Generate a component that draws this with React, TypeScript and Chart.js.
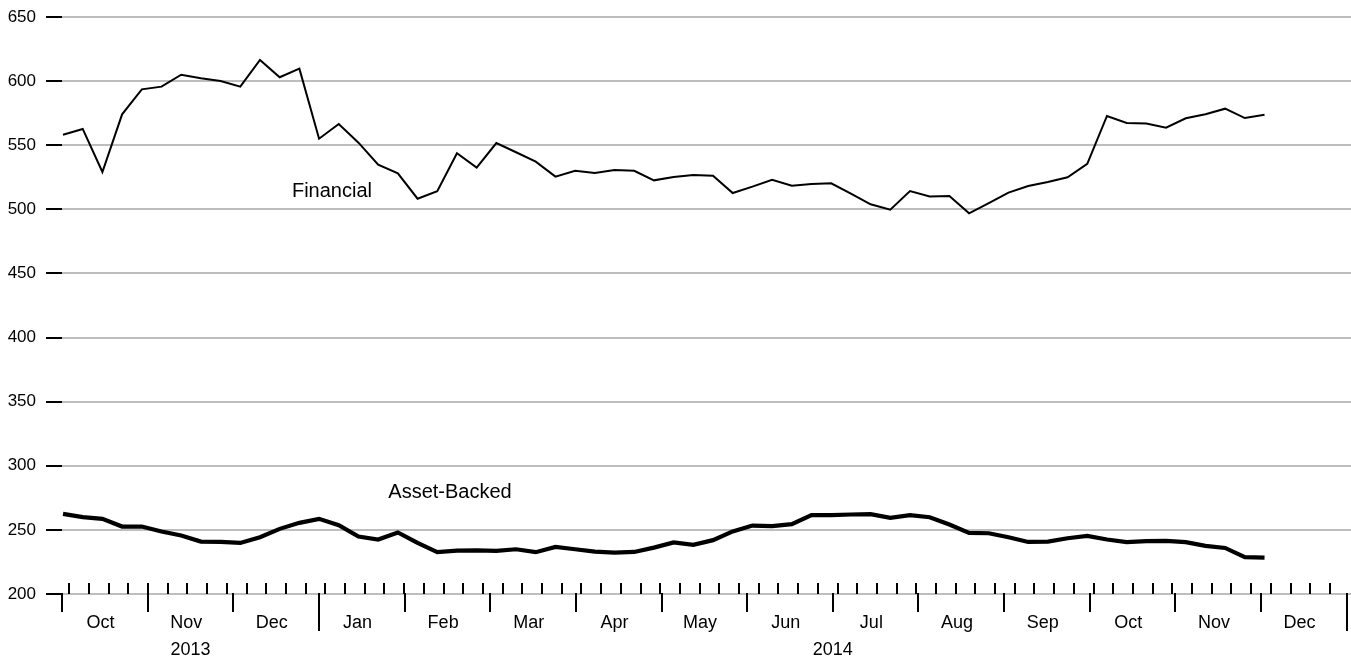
import React, { useEffect, useRef } from "react";
import { Chart, registerables } from "chart.js";

Chart.register(...registerables);

// ---- Data (weekly observations, starting early Oct 2013) ----
const financial = [
  558.2, 562.7, 529.1, 574.1, 593.6, 595.7, 605.0, 602.2, 600.1, 595.7,
  616.5, 603.0, 609.7, 555.1, 566.5, 552.0, 534.8, 528.1, 508.3, 514.1,
  543.7, 532.5, 551.7, 544.5, 537.2, 525.5, 530.1, 528.3, 530.7, 530.1,
  522.6, 525.2, 526.8, 526.2, 512.7, 517.7, 523.1, 518.4, 519.8, 520.3,
  512.2, 503.9, 499.7, 514.3, 510.1, 510.4, 496.9, 504.9, 513.0, 518.2,
  521.3, 525.0, 535.4, 572.8, 567.3, 567.0, 563.7, 571.0, 574.1, 578.5,
  571.2, 573.8,
];

const assetBacked = [
  262.5, 259.9, 258.6, 252.6, 252.6, 248.7, 245.6, 240.9, 240.6, 239.8,
  244.3, 250.8, 255.5, 258.6, 253.7, 244.8, 242.5, 248.0, 239.8, 232.6,
  233.9, 234.1, 233.6, 234.9, 232.6, 236.7, 234.9, 233.1, 232.3, 232.8,
  236.2, 240.2, 238.3, 242.0, 248.8, 253.4, 252.9, 254.5, 261.5, 261.5,
  262.0, 262.3, 259.4, 261.5, 259.9, 254.2, 247.7, 247.4, 244.3, 240.6,
  240.9, 243.5, 245.3, 242.5, 240.4, 241.2, 241.4, 240.4, 237.5, 235.9,
  228.7, 228.4,
];

const monthLabels = [
  "Oct", "Nov", "Dec", "Jan", "Feb", "Mar", "Apr", "May",
  "Jun", "Jul", "Aug", "Sep", "Oct", "Nov", "Dec",
];
const yearLabels = ["2013", "2014"];
const yearBounds = [0, 3, 15]; // month index where each year starts / ends

const yTickValues = [200, 250, 300, 350, 400, 450, 500, 550, 600, 650];

const seriesLabels = ["Financial", "Asset-Backed"];
// annotation anchors in data units: [month position, value]
const financialLabelAt = [2.685, 509.6];
const assetLabelAt = [3.81, 274.9];

// time mapping (x axis in months since 1 Oct 2013)
const DAYS_PER_MONTH = 30.4375;
const FIRST_POINT_DAY = 0.36;
const FIRST_WEEK_TICK_DAY = 2.6;
const WEEK_TICK_COUNT = 65;

const FONT = '"Liberation Sans", Arial, Helvetica, sans-serif';

const weekX = (i: number) => (FIRST_POINT_DAY + 7 * i) / DAYS_PER_MONTH;

const timeAxisPlugin = {
  id: "timeAxis",
  afterDraw(chart: any) {
    const { ctx, chartArea } = chart;
    const x = chart.scales.x;
    const base = Math.round(chartArea.bottom);
    ctx.save();
    ctx.strokeStyle = "#000";
    ctx.lineWidth = 2;
    ctx.lineCap = "butt";
    const line = (x1: number, y1: number, x2: number, y2: number) => {
      ctx.beginPath();
      ctx.moveTo(x1, y1);
      ctx.lineTo(x2, y2);
      ctx.stroke();
    };
    // weekly minor ticks (pointing up)
    for (let k = 0; k < WEEK_TICK_COUNT; k++) {
      const px = Math.round(x.getPixelForValue((FIRST_WEEK_TICK_DAY + 7 * k) / DAYS_PER_MONTH));
      line(px, base - 11, px, base);
    }
    // month ticks (pointing down), longer at year boundaries
    const longTicks = yearBounds.slice(1);
    for (let m = 0; m <= monthLabels.length; m++) {
      const px = Math.round(x.getPixelForValue(m));
      const len = longTicks.includes(m) ? 37 : 18;
      line(px, base - 1, px, base + len);
    }
    // month labels
    ctx.fillStyle = "#000";
    ctx.font = `18px ${FONT}`;
    ctx.textAlign = "center";
    ctx.textBaseline = "alphabetic";
    monthLabels.forEach((lab, m) => {
      ctx.fillText(lab, x.getPixelForValue(m + 0.45), base + 34);
    });
    // year labels
    yearLabels.forEach((lab, i) => {
      const c = (x.getPixelForValue(yearBounds[i]) + x.getPixelForValue(yearBounds[i + 1])) / 2;
      ctx.fillText(lab, c, base + 61);
    });
    ctx.restore();
  },
};

const annotationPlugin = {
  id: "seriesNames",
  afterDatasetsDraw(chart: any) {
    const { ctx } = chart;
    const x = chart.scales.x;
    const y = chart.scales.y;
    ctx.save();
    ctx.fillStyle = "#000";
    ctx.font = `20px ${FONT}`;
    ctx.textAlign = "left";
    ctx.textBaseline = "alphabetic";
    ctx.fillText(seriesLabels[0], x.getPixelForValue(financialLabelAt[0]), y.getPixelForValue(financialLabelAt[1]));
    ctx.fillText(seriesLabels[1], x.getPixelForValue(assetLabelAt[0]), y.getPixelForValue(assetLabelAt[1]));
    ctx.restore();
  },
};

export default function App() {
  const canvasRef = useRef<HTMLCanvasElement | null>(null);

  useEffect(() => {
    if (!canvasRef.current) return;
    const chart = new Chart(canvasRef.current, {
      type: "line",
      data: {
        datasets: [
          {
            label: seriesLabels[0],
            data: financial.map((v, i) => ({ x: weekX(i), y: v })),
            borderColor: "#000",
            borderWidth: 2,
            pointRadius: 0,
            tension: 0,
            fill: false,
          },
          {
            label: seriesLabels[1],
            data: assetBacked.map((v, i) => ({ x: weekX(i), y: v })),
            borderColor: "#000",
            borderWidth: 4.2,
            pointRadius: 0,
            tension: 0,
            fill: false,
          },
        ],
      },
      options: {
        animation: false,
        responsive: false,
        devicePixelRatio: 1,
        layout: { padding: { top: 17, bottom: 64, left: 0, right: 0 } },
        plugins: {
          legend: { display: false },
          tooltip: { enabled: false },
        },
        scales: {
          x: {
            type: "linear",
            min: 0,
            max: 15.05,
            display: false,
          },
          y: {
            type: "linear",
            min: 200,
            max: 650,
            afterBuildTicks: (s: any) => {
              s.ticks = yTickValues.map((v) => ({ value: v }));
            },
            afterFit: (s: any) => {
              s.width = 62;
              s.paddingTop = 0;
              s.paddingBottom = 0;
            },
            ticks: {
              color: "#000",
              padding: 10,
              font: { family: FONT, size: 17 },
            },
            grid: {
              color: "#bebebe",
              lineWidth: 2,
              tickColor: "#000",
              tickLength: 16,
              tickWidth: 2,
            },
            border: { display: false },
          },
        },
      },
      plugins: [timeAxisPlugin, annotationPlugin],
    });
    return () => chart.destroy();
  }, []);

  return (
    <div style={{ position: "absolute", left: 0, top: 0, width: 1351, height: 658, background: "#fff" }}>
      <canvas ref={canvasRef} width={1351} height={658} />
    </div>
  );
}
